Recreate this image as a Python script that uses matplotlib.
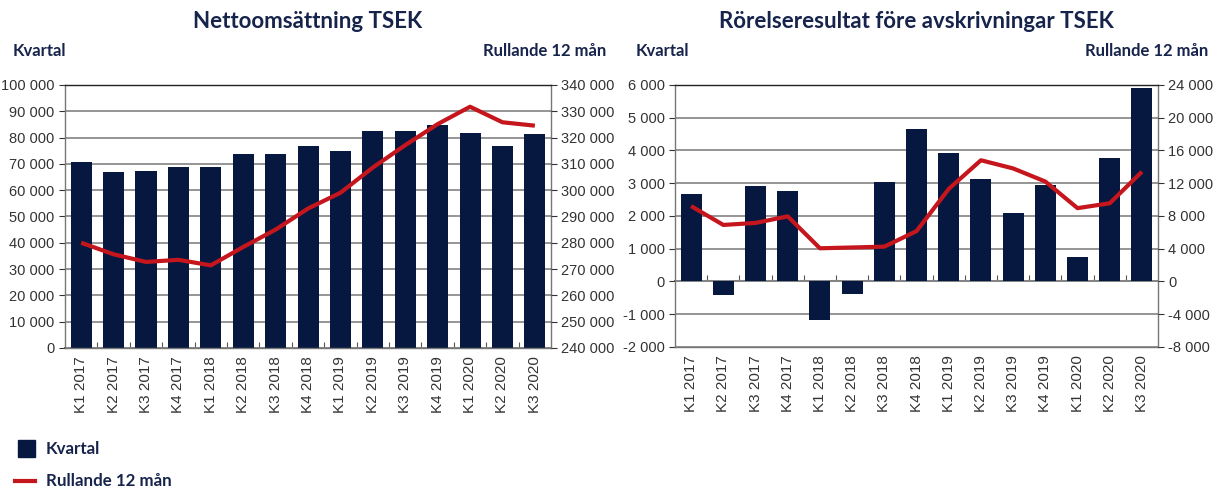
import matplotlib
matplotlib.use("Agg")
import matplotlib.pyplot as plt
from matplotlib.ticker import FuncFormatter, MultipleLocator
from matplotlib.patches import Rectangle
from matplotlib.lines import Line2D

quarters = ["K1 2017", "K2 2017", "K3 2017", "K4 2017",
            "K1 2018", "K2 2018", "K3 2018", "K4 2018",
            "K1 2019", "K2 2019", "K3 2019", "K4 2019",
            "K1 2020", "K2 2020", "K3 2020"]

# Nettoomsättning TSEK
sales_q = [70700, 66800, 67200, 68700, 68700, 73700, 73700, 76700,
           74800, 82500, 82500, 84800, 81700, 76700, 81300]
sales_r12 = [280000, 275600, 272700, 273500, 271400, 278400, 285000, 293000,
             299000, 308600, 317100, 325100, 331700, 325800, 324500]

# Rörelseresultat före avskrivningar TSEK
ebitda_q = [2670, -400, 2920, 2760, -1190, -370, 3040, 4650,
            3920, 3130, 2090, 2950, 750, 3770, 5900]
ebitda_r12 = [9200, 6900, 7150, 7950, 4050, 4150, 4250, 6150,
              11300, 14800, 13800, 12200, 8950, 9550, 13400]

NAVY = "#06183f"
RED = "#c5161d"
TXT = "#16234b"
TICK = "#333333"

plt.rcParams["font.family"] = ["Liberation Sans", "DejaVu Sans"]


def fmt(v, pos):
    return "{:,.0f}".format(v).replace(",", " ")


def makeChart(fig, rect, title, bars, line, ylim, ystep, y2lim, y2step):
    ax = fig.add_axes(rect)
    x = list(range(len(quarters)))
    ax.bar(x, bars, width=0.65, color=NAVY, zorder=2)
    ax.set_xlim(-0.5, len(quarters) - 0.5)
    ax.set_ylim(*ylim)
    ax.yaxis.set_major_locator(MultipleLocator(ystep))
    ax.yaxis.set_major_formatter(FuncFormatter(fmt))
    ax.grid(axis="y", color="#8c8c8c", linewidth=1.3, zorder=0)
    ax.set_axisbelow(True)
    ax.set_xticks(x)
    ax.set_xticklabels(quarters, rotation=90, fontsize=11, color=TICK)
    ax.tick_params(axis="x", length=0, pad=6)
    ax.tick_params(axis="y", labelsize=10.5, colors=TICK, length=4, width=0.8)
    for s in ax.spines.values():
        s.set_color("#777777")
        s.set_linewidth(1)
    ax.spines["top"].set_color("#222222")

    # category boundary ticks on the zero line
    zero = (0 - ylim[0]) / (ylim[1] - ylim[0])
    sec = ax.secondary_xaxis(zero)
    sec.set_xticks([i + 0.5 for i in x[:-1]])
    sec.set_xticklabels([])
    sec.tick_params(direction="in", length=4, width=0.8, color="#555555")
    sec.spines["bottom"].set_color("#222222")
    sec.spines["bottom"].set_linewidth(1.2)

    ax2 = ax.twinx()
    ax2.plot(x, line, color=RED, linewidth=3, solid_capstyle="butt", zorder=3)
    ax2.set_ylim(*y2lim)
    ax2.yaxis.set_major_locator(MultipleLocator(y2step))
    ax2.yaxis.set_major_formatter(FuncFormatter(fmt))
    ax2.tick_params(axis="y", labelsize=10.5, colors=TICK, length=4, width=0.8)
    for s in ax2.spines.values():
        s.set_visible(False)

    l, b, w, h = rect
    fig.text(l + w / 2, 0.955, title, ha="center", va="center", fontsize=16,
             fontweight="bold", color=TXT, family="Lato")
    return ax


fig = plt.figure(figsize=(12.13, 4.88), dpi=100)

makeChart(fig, [0.0536, 0.287, 0.4007, 0.539], "Nettoomsättning TSEK",
          sales_q, sales_r12, (0, 100000), 10000, (240000, 340000), 10000)
makeChart(fig, [0.5565, 0.289, 0.3982, 0.537], "Rörelseresultat före avskrivningar TSEK",
          ebitda_q, ebitda_r12, (-2000, 6000), 1000, (-8000, 24000), 4000)

for xl, xr in [(0.010, 0.500), (0.524, 0.996)]:
    fig.text(xl, 0.895, "Kvartal", ha="left", va="center", fontsize=12,
             fontweight="bold", color=TXT, family="Lato")
    fig.text(xr, 0.895, "Rullande 12 mån", ha="right", va="center", fontsize=12,
             fontweight="bold", color=TXT, family="Lato")

# legend
fig.patches.append(Rectangle((0.0148, 0.064), 0.0140, 0.034, transform=fig.transFigure,
                             color=NAVY))
fig.text(0.038, 0.080, "Kvartal", ha="left", va="center", fontsize=12.2,
         fontweight="bold", color=TXT, family="Lato")
fig.lines.append(Line2D([0.0124, 0.0289], [0.014, 0.014], transform=fig.transFigure,
                        color=RED, linewidth=3))
fig.text(0.038, 0.014, "Rullande 12 mån", ha="left", va="center", fontsize=12.2,
         fontweight="bold", color=TXT, family="Lato")

fig.savefig("out.png", dpi=100)
